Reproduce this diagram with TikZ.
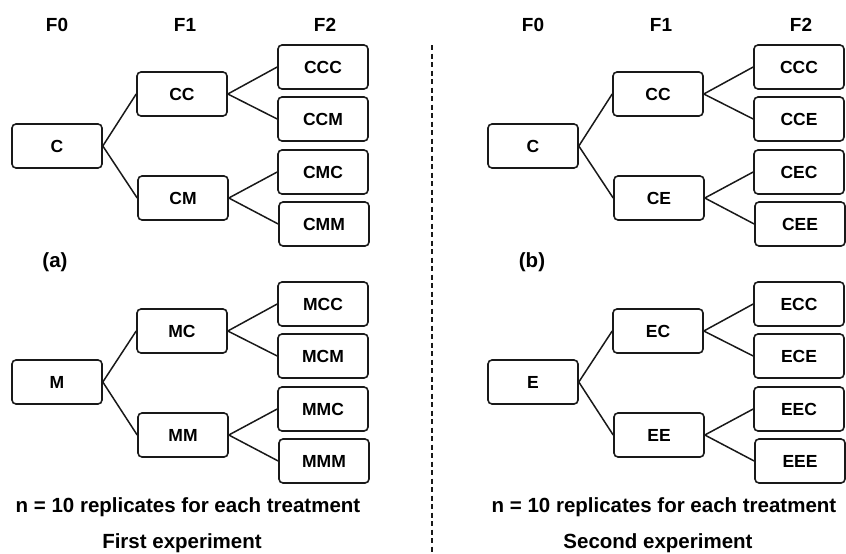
\documentclass[tikz,border=0pt]{standalone}
\usepackage{fontspec}
\setmainfont{Liberation Sans}
\usetikzlibrary{calc}

\tikzset{
  gen/.style={draw=black!90,line width=1.6pt,rounded corners=4pt,minimum width=90pt,minimum height=44pt,inner sep=0pt,font=\fontsize{17.5}{20}\selectfont\bfseries},
  head/.style={font=\fontsize{19}{22}\selectfont\bfseries},
  note/.style={font=\fontsize{20.5}{24}\selectfont\bfseries},
  link/.style={black!90,line width=1.5pt}
}

\begin{document}
\begin{tikzpicture}[x=1pt,y=-1pt]

\useasboundingbox (0,0) rectangle (846,554);

% first experiment
\node[head] (aF0) at (57,25) {F0};
\node[head] (aF1) at (185,25) {F1};
\node[head] (aF2) at (325,25) {F2};

\node[gen] (aC) at (57,146) {C};
\node[gen] (aCC) at (182,94) {CC};
\node[gen] (aCM) at (183,198) {CM};
\node[gen] (aCCC) at (323,67) {CCC};
\node[gen] (aCCM) at (323,119) {CCM};
\node[gen] (aCMC) at (323,172) {CMC};
\node[gen] (aCMM) at (324,224) {CMM};

\node[note] (alab) at (55,262) {(a)};

\node[gen] (aM) at (57,382) {M};
\node[gen] (aMC) at (182,331) {MC};
\node[gen] (aMM) at (183,435) {MM};
\node[gen] (aMCC) at (323,304) {MCC};
\node[gen] (aMCM) at (323,356) {MCM};
\node[gen] (aMMC) at (323,409) {MMC};
\node[gen] (aMMM) at (324,461) {MMM};

\node[note] (an) at (188,507) {n = 10 replicates for each treatment};
\node[note] (aexp) at (182,543) {First experiment};

% second experiment
\node[head] (bF0) at (533,25) {F0};
\node[head] (bF1) at (661,25) {F1};
\node[head] (bF2) at (801,25) {F2};

\node[gen] (bC) at (533,146) {C};
\node[gen] (bCC) at (658,94) {CC};
\node[gen] (bCE) at (659,198) {CE};
\node[gen] (bCCC) at (799,67) {CCC};
\node[gen] (bCCE) at (799,119) {CCE};
\node[gen] (bCEC) at (799,172) {CEC};
\node[gen] (bCEE) at (800,224) {CEE};

\node[note] (blab) at (532,262) {(b)};

\node[gen] (bE) at (533,382) {E};
\node[gen] (bEC) at (658,331) {EC};
\node[gen] (bEE) at (659,435) {EE};
\node[gen] (bECC) at (799,304) {ECC};
\node[gen] (bECE) at (799,356) {ECE};
\node[gen] (bEEC) at (799,409) {EEC};
\node[gen] (bEEE) at (800,461) {EEE};

\node[note] (bn) at (664,507) {n = 10 replicates for each treatment};
\node[note] (bexp) at (658,543) {Second experiment};

% branches
\foreach \p/\q in {aC/aCC,aC/aCM,aCC/aCCC,aCC/aCCM,aCM/aCMC,aCM/aCMM,
                   aM/aMC,aM/aMM,aMC/aMCC,aMC/aMCM,aMM/aMMC,aMM/aMMM,
                   bC/bCC,bC/bCE,bCC/bCCC,bCC/bCCE,bCE/bCEC,bCE/bCEE,
                   bE/bEC,bE/bEE,bEC/bECC,bEC/bECE,bEE/bEEC,bEE/bEEE}
  \draw[link] (\p.east) -- (\q.west);

\coordinate (top) at (432,45);
\coordinate (bot) at (432,554);
\draw[black!90,line width=1.3pt,dash pattern=on 5pt off 3.5pt] (top) -- (bot);

\end{tikzpicture}
\end{document}
